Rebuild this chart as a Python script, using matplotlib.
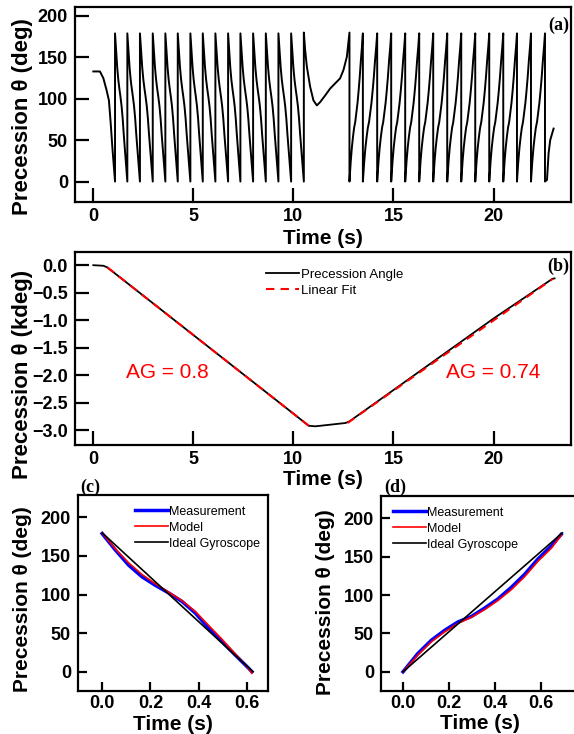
import matplotlib.pyplot as plt

plt.rcParams['font.family'] = ['Liberation Sans', 'DejaVu Sans']
plt.rcParams['font.weight'] = 'bold'
plt.rcParams['axes.labelweight'] = 'bold'

W, H = 574.0, 734.0

# ---- (c) one falling period, deg vs s
c_t = [0, 0.055, 0.11, 0.165, 0.22, 0.276, 0.331, 0.386, 0.441, 0.4965, 0.5515, 0.607, 0.62]
c_meas = [179, 157.6, 138, 123, 112, 102, 91, 76, 56.5, 38.9, 21.6, 4.4, 0]
c_model = [180, 159, 141, 126, 114, 103, 92, 78, 60, 42, 23, 4, -2]
c_ideal_t = [0, 0.625]
c_ideal = [180, 0]

# ---- (d) one rising period
d_t = [0, 0.065, 0.123, 0.181, 0.239, 0.297, 0.355, 0.413, 0.471, 0.529, 0.587, 0.645, 0.688]
d_meas = [0, 24, 41, 54, 65, 72, 83, 95, 110, 127, 147, 164, 179]
d_model = [0, 22, 39, 52, 63, 71, 81, 93, 107, 124, 144, 161, 178]
d_ideal_t = [0, 0.693]
d_ideal = [0, 181]

# ---- (a) wrapped precession angle
a_start_t = [0.0, 0.33, 0.5, 0.667, 0.78, 0.87, 0.95, 1.085]
a_start_v = [133, 133, 125, 110, 98, 70, 42, 0]
down_wraps = [1.085, 1.70, 2.33, 2.97, 3.60, 4.22, 4.85, 5.47, 6.10, 6.735,
              7.35, 7.985, 8.62, 9.25, 9.885, 10.52]
a_mid_t = [10.52, 10.585, 10.67, 10.835, 11.0, 11.17, 11.335, 11.585, 11.84,
           12.33, 12.5, 12.67, 12.80]
a_mid_v = [180, 159, 139, 114.5, 98, 92, 96, 104, 112.5, 124.6, 134.7, 150.8, 180]
up_wraps = [12.80, 13.47, 14.185, 14.885, 15.585, 16.285, 16.985, 17.685, 18.385,
            19.085, 19.785, 20.485, 21.17, 21.87, 22.57]
a_end_t = [22.57, 22.67, 22.75, 22.83, 23.0]
a_end_v = [0, 2, 34, 50, 64]

# ---- (b) unwrapped angle, kdeg
b_t = [0, 0.5, 0.7, 5.0, 10.0, 10.76, 11.1, 12.6, 12.8, 15.0, 20.0, 22.93, 23.05]
b_v = [0, -0.01, -0.04, -1.27, -2.70, -2.92, -2.93, -2.87, -2.84, -2.27, -0.97, -0.25, -0.24]
fit1_t, fit1_v = [0.7, 10.8], [-0.04, -2.93]
fit2_t, fit2_v = [12.7, 22.95], [-2.87, -0.25]

# build (a) from wrap times, each tooth shaped like (c)/(d)
ta, va = list(a_start_t), list(a_start_v)
for k in range(len(down_wraps) - 1):
    t0, t1 = down_wraps[k], down_wraps[k + 1]
    s = (t1 - t0) / c_t[-1]
    ta += [t0 + s * x for x in c_t]
    va += c_meas
ta += a_mid_t
va += a_mid_v
for k in range(len(up_wraps) - 1):
    t0, t1 = up_wraps[k], up_wraps[k + 1]
    s = (t1 - t0) / d_t[-1]
    ta += [t0 + s * x for x in d_t]
    va += d_meas
ta += a_end_t
va += a_end_v


def box(l, t, r, b):
    return [l / W, 1 - b / H, (r - l) / W, (b - t) / H]


fig = plt.figure(figsize=(5.74, 7.34), dpi=100)
axa = fig.add_axes(box(75, 7.3, 571, 202))
axb = fig.add_axes(box(75, 252, 571, 445))
axc = fig.add_axes(box(78, 495, 268, 691))
axd = fig.add_axes(box(381, 496, 578, 691))


def style(ax, tl, xpad):
    for s in ax.spines.values():
        s.set_linewidth(1.6)
    ax.tick_params(direction='in', length=tl, width=1.6, labelsize=13, pad=5)
    ax.tick_params(axis='x', pad=xpad)


style(axa, 10, 4)
style(axb, 10, 4)
style(axc, 6.5, 3)
style(axd, 6.5, 3)

# (a)
axa.plot(ta, va, color='black', lw=1.4)
axa.set_xlim(-0.915, 23.87)
axa.set_ylim(-24.7, 210.5)
axa.set_xticks([0, 5, 10, 15, 20])
axa.set_yticks([0, 50, 100, 150, 200])
axa.set_xlabel('Time (s)', fontsize=15)
axa.set_ylabel('Precession θ (deg)', fontsize=16)
axa.xaxis.set_label_coords(0.5, -0.138)
axa.yaxis.set_label_coords(-0.085, 0.44)

# (b)
axb.plot(b_t, b_v, color='black', lw=1.3, label='Precession Angle')
axb.plot(fit1_t, fit1_v, color='red', lw=1.5, ls=(0, (4, 3)), label='Linear Fit')
axb.plot(fit2_t, fit2_v, color='red', lw=1.5, ls=(0, (4, 3)))
axb.set_xlim(-0.915, 23.87)
axb.set_ylim(-3.27, 0.24)
axb.set_xticks([0, 5, 10, 15, 20])
axb.set_yticks([0, -0.5, -1.0, -1.5, -2.0, -2.5, -3.0])
axb.set_xlabel('Time (s)', fontsize=15)
axb.set_ylabel('Precession θ (kdeg)', fontsize=16)
axb.xaxis.set_label_coords(0.5, -0.13)
axb.yaxis.set_label_coords(-0.085, 0.365)
axb.text(1.65, -1.96, 'AG = 0.8', color='red', fontsize=15, fontweight='normal',
         ha='left', va='center')
axb.text(17.6, -1.96, 'AG = 0.74', color='red', fontsize=15, fontweight='normal',
         ha='left', va='center')
axb.legend(loc='upper left', bbox_to_anchor=(0.385, 0.915), frameon=False,
           prop={'weight': 'normal', 'size': 9.5}, handlelength=2.5,
           handletextpad=0.15, labelspacing=0.3, borderpad=0, borderaxespad=0)

# (c)
axc.plot(c_t, c_meas, color='blue', lw=2.5, label='Measurement')
axc.plot(c_t, c_model, color='red', lw=1.2, label='Model')
axc.plot(c_ideal_t, c_ideal, color='black', lw=1.2, label='Ideal Gyroscope')
axc.set_xlim(-0.1, 0.687)
axc.set_ylim(-25, 229)

# (d)
axd.plot(d_t, d_meas, color='blue', lw=2.5, label='Measurement')
axd.plot(d_t, d_model, color='red', lw=1.2, label='Model')
axd.plot(d_ideal_t, d_ideal, color='black', lw=1.2, label='Ideal Gyroscope')
axd.set_xlim(-0.0957, 0.761)
axd.set_ylim(-25, 229)

for ax, lx, ly, anc in [(axc, -0.242, 0.469, 0.30), (axd, -0.231, 0.454, 0.061)]:
    ax.set_xticks([0.0, 0.2, 0.4, 0.6])
    ax.set_xticklabels(['0.0', '0.2', '0.4', '0.6'])
    ax.set_yticks([0, 50, 100, 150, 200])
    ax.set_xlabel('Time (s)', fontsize=15)
    ax.set_ylabel('Precession θ (deg)', fontsize=15)
    ax.xaxis.set_label_coords(0.5, -0.12)
    ax.yaxis.set_label_coords(lx, ly)
    ax.legend(loc='upper left', bbox_to_anchor=(anc, 0.945), frameon=False,
              prop={'weight': 'normal', 'size': 9}, handlelength=2.6,
              handletextpad=0.15, labelspacing=0.32, borderpad=0, borderaxespad=0)

# panel letters
for txt, x, y in [('(a)', 558.5, 25), ('(b)', 558, 266), ('(c)', 90, 487), ('(d)', 395, 487)]:
    fig.text(x / W, 1 - y / H, txt, family='Liberation Serif', fontweight='bold',
             fontsize=13, ha='center', va='center')

fig.savefig('out.png', dpi=100)
